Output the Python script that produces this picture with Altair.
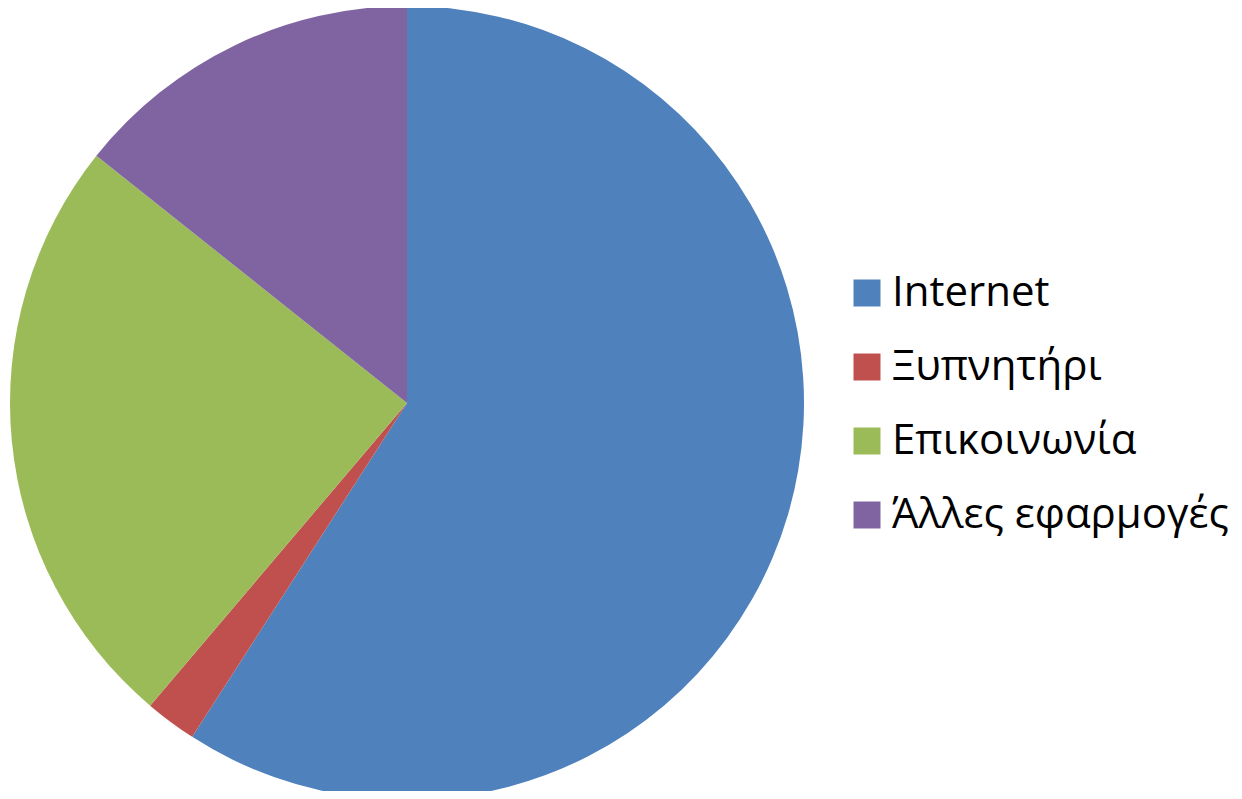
import altair as alt
import pandas as pd

categories = ["Internet", "Ξυπνητήρι", "Επικοινωνία", "Άλλες εφαρμογές"]
values = [59.1, 2.1, 24.5, 14.3]
order = [0, 1, 2, 3]
colors = ["#4F81BD", "#C0504D", "#9BBB59", "#8064A2"]

df = pd.DataFrame({"category": categories, "value": values, "order": order})

chart = alt.Chart(df).mark_arc(outerRadius=397, stroke=None).encode(
    theta=alt.Theta("value:Q", stack=True),
    order=alt.Order("order:Q"),
    color=alt.Color(
        "category:N",
        sort=categories,
        scale=alt.Scale(domain=categories, range=colors),
        legend=alt.Legend(
            title=None,
            orient="none",
            legendX=838,
            legendY=264,
            symbolType="square",
            symbolSize=729,
            symbolStrokeWidth=0,
            labelFontSize=42,
            labelFont="Open Sans",
            labelColor="#000000",
            labelOffset=4,
            rowPadding=32,
            labelLimit=500,
        ),
    ),
    x=alt.value(399),
    y=alt.value(395),
).properties(
    width=1226,
    height=783,
    autosize=alt.AutoSizeParams(type="none"),
    padding=0,
).configure(background="white").configure_view(stroke=None, strokeWidth=0)

chart.save("out.html", embed_options={"renderer": "svg", "actions": False})
